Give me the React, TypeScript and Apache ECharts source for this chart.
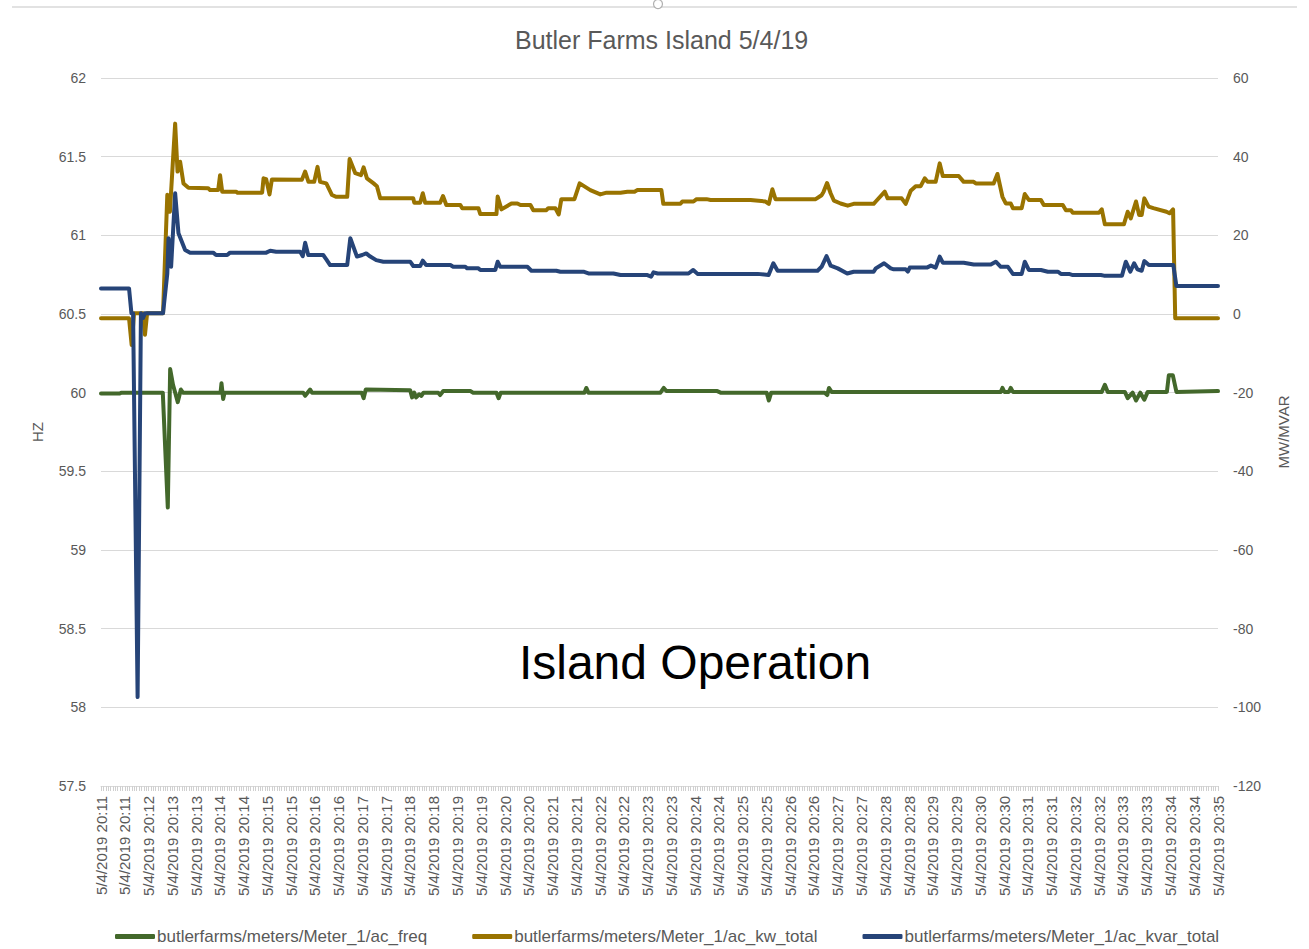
import React, { useEffect, useRef } from "react";
import * as echarts from "echarts";

// Tick labels of the time axis (one label every ~30 s)
const TICK_LABELS = [
  "5/4/2019 20:11", "5/4/2019 20:11", "5/4/2019 20:12",
  "5/4/2019 20:13", "5/4/2019 20:13", "5/4/2019 20:14", "5/4/2019 20:14",
  "5/4/2019 20:15", "5/4/2019 20:15", "5/4/2019 20:16", "5/4/2019 20:16",
  "5/4/2019 20:17", "5/4/2019 20:17", "5/4/2019 20:18", "5/4/2019 20:18",
  "5/4/2019 20:19", "5/4/2019 20:19", "5/4/2019 20:20", "5/4/2019 20:20",
  "5/4/2019 20:21", "5/4/2019 20:21", "5/4/2019 20:22", "5/4/2019 20:22",
  "5/4/2019 20:23", "5/4/2019 20:23", "5/4/2019 20:24", "5/4/2019 20:24",
  "5/4/2019 20:25", "5/4/2019 20:25", "5/4/2019 20:26", "5/4/2019 20:26",
  "5/4/2019 20:27", "5/4/2019 20:27", "5/4/2019 20:28", "5/4/2019 20:28",
  "5/4/2019 20:29", "5/4/2019 20:29", "5/4/2019 20:30", "5/4/2019 20:30",
  "5/4/2019 20:31", "5/4/2019 20:31", "5/4/2019 20:32", "5/4/2019 20:32",
  "5/4/2019 20:33", "5/4/2019 20:33", "5/4/2019 20:34", "5/4/2019 20:34",
  "5/4/2019 20:35",
];

const SERIES_NAMES = [
  "butlerfarms/meters/Meter_1/ac_freq",
  "butlerfarms/meters/Meter_1/ac_kw_total",
  "butlerfarms/meters/Meter_1/ac_kvar_total",
];

// [position along time axis (in tick-label units), value]
const FREQ_POINTS = [
  [0, 59.995], [0.8, 59.995], [0.84, 60.0], [2.6, 60.0], [2.81, 59.27], [2.91, 60.15],
  [3.03, 60.05], [3.23, 59.94], [3.36, 60.02], [3.45, 60.0], [5.03, 60.0], [5.07, 60.06],
  [5.14, 59.96], [5.2, 60.0], [8.51, 60.0], [8.59, 59.98], [8.8, 60.02], [8.88, 60.0],
  [10.97, 60.0], [11.05, 59.965], [11.14, 60.02], [13.01, 60.015], [13.09, 59.97],
  [13.18, 60.0], [13.26, 59.97], [13.39, 59.99], [13.48, 59.98], [13.57, 60.0],
  [14.19, 60.0], [14.27, 59.985], [14.4, 60.01], [15.54, 60.01], [15.66, 60.0],
  [16.64, 60.0], [16.73, 59.965], [16.82, 60.0], [20.34, 60.0], [20.42, 60.03],
  [20.51, 60.0], [23.54, 60.0], [23.68, 60.03], [23.79, 60.01], [25.93, 60.01],
  [26.07, 60.0], [28.01, 60.0], [28.1, 59.95], [28.2, 60.0], [30.45, 60.0],
  [30.56, 59.985], [30.63, 60.03], [30.74, 60.005], [37.86, 60.005], [37.93, 60.03],
  [38.01, 60.005], [38.2, 60.005], [38.28, 60.03], [38.37, 60.005], [42.11, 60.005],
  [42.24, 60.05], [42.36, 60.005], [43.08, 60.005], [43.2, 59.965], [43.41, 60.0],
  [43.55, 59.95], [43.73, 60.0], [43.9, 59.955], [44.04, 60.005], [44.85, 60.005],
  [44.93, 60.11], [45.1, 60.11], [45.25, 60.005], [47, 60.01],
];

const KW_POINTS = [
  [0, -1.1], [1.18, -1.1], [1.29, -7.9], [1.39, 0.2], [1.77, 0.2], [1.85, -5.3],
  [1.94, 0.2], [2.61, 0.2], [2.79, 30.3], [2.9, 26.0], [3.12, 48.4], [3.22, 36.2],
  [3.33, 38.7], [3.47, 33.2], [3.68, 32.1], [4.51, 32.0], [4.59, 31.5], [4.93, 31.5],
  [5.01, 35.3], [5.1, 31.1], [5.69, 31.1], [5.73, 30.85], [6.78, 30.85], [6.84, 34.5],
  [6.95, 34.3], [7.09, 30.4], [7.19, 34.2], [8.45, 34.1], [8.59, 36.2], [8.73, 33.6],
  [8.97, 33.6], [9.11, 37.4], [9.22, 33.6], [9.48, 33.2], [9.72, 30.25], [9.9, 29.8],
  [10.36, 29.8], [10.46, 39.4], [10.7, 35.8], [10.94, 35.3], [11.05, 37.3], [11.19, 34.5],
  [11.47, 33.2], [11.61, 32.5], [11.75, 29.4], [13.14, 29.4], [13.18, 28.3], [13.43, 28.3],
  [13.54, 30.7], [13.64, 28.3], [14.27, 28.3], [14.39, 30.0], [14.53, 27.7], [15.12, 27.7],
  [15.2, 26.9], [15.88, 26.9], [15.96, 25.4], [16.64, 25.4], [16.69, 29.85], [16.85, 26.6],
  [17.27, 28.1], [17.52, 28.1], [17.65, 27.7], [18.07, 27.7], [18.19, 26.4], [18.74, 26.4],
  [18.82, 26.9], [19.12, 26.9], [19.26, 25.3], [19.37, 29.2], [19.92, 29.2], [20.14, 33.2],
  [20.59, 31.5], [21.01, 30.4], [21.27, 30.85], [21.86, 30.85], [22.15, 31.1], [22.45, 31.1],
  [22.57, 31.5], [23.58, 31.5], [23.66, 28.0], [24.38, 28.0], [24.46, 28.6], [24.93, 28.6],
  [25.06, 29.2], [25.48, 29.2], [25.65, 29.0], [27.33, 29.0], [27.96, 28.6], [28.1, 28.0],
  [28.25, 31.7], [28.38, 29.2], [30.07, 29.2], [30.32, 30.2], [30.4, 31.0], [30.55, 33.3],
  [30.7, 30.7], [30.84, 28.8], [31.12, 28.1], [31.42, 27.55], [31.67, 28.0], [32.51, 28.0],
  [32.6, 28.6], [32.98, 31.1], [33.1, 29.4], [33.69, 29.4], [33.86, 28.0], [34.07, 31.35],
  [34.28, 32.5], [34.49, 32.5], [34.66, 34.5], [34.78, 33.6], [35.12, 33.6], [35.29, 38.3],
  [35.42, 35.1], [36.09, 35.1], [36.3, 33.6], [36.72, 33.6], [36.81, 33.2], [37.56, 33.2],
  [37.72, 35.6], [37.93, 29.8], [38.07, 28.1], [38.28, 28.1], [38.37, 26.9], [38.74, 26.9],
  [38.87, 30.5], [39.04, 29.0], [39.55, 29.0], [39.67, 27.7], [40.47, 27.7], [40.6, 26.4],
  [40.81, 26.4], [40.89, 25.75], [41.99, 25.75], [42.11, 26.6], [42.24, 22.8], [43.04, 22.8],
  [43.2, 26.0], [43.33, 24.3], [43.55, 28.6], [43.68, 25.2], [43.79, 25.2], [43.9, 29.4],
  [44.08, 27.3], [44.28, 26.9], [44.83, 26.0], [44.96, 25.6], [45.11, 26.6], [45.2, -1.1],
  [47, -1.1],
];

const KVAR_POINTS = [
  [0, 6.5], [1.18, 6.5], [1.28, 0.2], [1.35, 0.2], [1.54, -97.4], [1.68, 0.2],
  [1.77, -1.0], [1.85, 0.2], [2.61, 0.2], [2.79, 10.3], [2.84, 19.25], [2.95, 12.0],
  [3.12, 30.7], [3.26, 20.5], [3.54, 16.3], [3.75, 15.6], [4.72, 15.6], [4.84, 15.0],
  [5.31, 15.0], [5.43, 15.6], [6.95, 15.6], [7.12, 16.1], [7.37, 15.85], [8.38, 15.85],
  [8.49, 14.7], [8.59, 18.1], [8.72, 15.0], [9.35, 15.0], [9.48, 13.9], [9.64, 12.45],
  [10.36, 12.45], [10.49, 19.25], [10.77, 14.6], [10.99, 15.0], [11.16, 15.4], [11.33, 14.6],
  [11.58, 13.7], [11.88, 13.3], [13.01, 13.3], [13.14, 12.2], [13.43, 12.2], [13.54, 13.55],
  [13.68, 12.45], [14.7, 12.45], [14.82, 12.0], [15.33, 12.0], [15.41, 11.6], [15.88, 11.6],
  [15.96, 11.2], [16.59, 11.2], [16.69, 13.3], [16.8, 12.0], [17.94, 12.0], [18.11, 11.0],
  [19.16, 11.0], [19.33, 10.75], [20.3, 10.75], [20.51, 10.3], [21.56, 10.3], [21.86, 9.9],
  [22.99, 9.9], [23.15, 9.5], [23.25, 10.6], [23.42, 10.3], [24.72, 10.3], [24.92, 11.2],
  [25.1, 10.2], [27.63, 10.2], [28.09, 9.9], [28.29, 12.9], [28.47, 11.0], [30.15, 11.0],
  [30.32, 12.0], [30.53, 14.7], [30.7, 12.3], [31.0, 11.6], [31.4, 10.3], [31.67, 10.75],
  [32.51, 10.75], [32.6, 11.6], [32.95, 12.9], [33.23, 11.6], [33.36, 11.35], [33.86, 11.35],
  [33.95, 10.8], [34.03, 11.8], [34.75, 11.8], [34.92, 12.3], [35.12, 11.8], [35.29, 14.6],
  [35.42, 13.05], [36.3, 13.05], [36.72, 12.6], [37.44, 12.6], [37.65, 13.3], [37.86, 12.0],
  [38.16, 12.0], [38.37, 10.2], [38.74, 10.2], [38.87, 13.3], [39.04, 11.2], [39.55, 11.2],
  [39.84, 10.75], [40.26, 10.75], [40.39, 10.2], [40.73, 10.2], [40.89, 9.9], [42.07, 9.9],
  [42.2, 9.75], [42.96, 9.75], [43.12, 13.3], [43.31, 10.75], [43.47, 12.9], [43.61, 11.35],
  [43.79, 11.0], [43.9, 13.45], [44.09, 12.45], [45.12, 12.45], [45.25, 7.1], [47, 7.1],
];

const COLORS = ["#43682B", "#997300", "#264478"];
const FONT = "'Liberation Sans', Arial, sans-serif";

export default function App() {
  const ref = useRef<HTMLDivElement>(null);

  useEffect(() => {
    document.body.style.margin = "0";
    if (!ref.current) return;
    const chart = echarts.init(ref.current, undefined, { renderer: "svg" });
    const axisText = { color: "#595959", fontSize: 14, fontFamily: FONT };

    chart.setOption({
      animation: false,
      backgroundColor: "#ffffff",
      textStyle: { fontFamily: FONT },
      color: COLORS,
      title: {
        text: "Butler Farms Island 5/4/19",
        left: 510,
        top: 22,
        textStyle: { color: "#595959", fontSize: 25, fontWeight: "normal", fontFamily: FONT },
      },
      legend: {
        left: 115,
        top: 928,
        padding: 0,
        icon: "roundRect",
        itemWidth: 40,
        itemHeight: 5,
        itemGap: 45,
        textStyle: { color: "#595959", fontSize: 17, fontFamily: FONT, padding: [0, 0, 0, -3] },
        data: SERIES_NAMES,
      },
      grid: { left: 101, right: 91, top: 78, bottom: 163, containLabel: false },
      xAxis: {
        type: "value",
        min: 0,
        max: 47,
        interval: 1,
        axisLine: { show: true, onZero: false, lineStyle: { color: "#d9d9d9", width: 1 } },
        axisTick: { show: true, length: 5, lineStyle: { color: "#d0d0d0" } },
        minorTick: { show: true, splitNumber: 10, length: 5, lineStyle: { color: "#d0d0d0" } },
        splitLine: { show: false },
        axisLabel: {
          ...axisText,
          fontSize: 15,
          rotate: 90,
          margin: 10,
          formatter: (v: number) => {
            const i = Math.round(v);
            return Math.abs(v - i) < 1e-6 && TICK_LABELS[i] ? TICK_LABELS[i] : "";
          },
        },
      },
      yAxis: [
        {
          type: "value",
          position: "left",
          min: 57.5,
          max: 62,
          interval: 0.5,
          name: "HZ",
          nameLocation: "middle",
          nameRotate: 90,
          nameGap: 56,
          nameTextStyle: { color: "#595959", fontSize: 15, fontFamily: FONT },
          axisLine: { show: false },
          axisTick: { show: false },
          splitLine: { show: true, lineStyle: { color: "#d9d9d9", width: 1 } },
          axisLabel: { ...axisText, margin: 15 },
        },
        {
          type: "value",
          position: "right",
          min: -120,
          max: 60,
          interval: 20,
          name: "MW/MVAR",
          nameLocation: "middle",
          nameRotate: 90,
          nameGap: 58,
          nameTextStyle: { color: "#595959", fontSize: 15, fontFamily: FONT },
          axisLine: { show: false },
          axisTick: { show: false },
          splitLine: { show: false },
          axisLabel: { ...axisText, margin: 15 },
        },
      ],
      series: [
        {
          name: SERIES_NAMES[0],
          type: "line",
          yAxisIndex: 0,
          data: FREQ_POINTS,
          showSymbol: false,
          lineStyle: { width: 4, color: COLORS[0], join: "round", cap: "round" },
        },
        {
          name: SERIES_NAMES[1],
          type: "line",
          yAxisIndex: 1,
          data: KW_POINTS,
          showSymbol: false,
          lineStyle: { width: 4, color: COLORS[1], join: "round", cap: "round" },
        },
        {
          name: SERIES_NAMES[2],
          type: "line",
          yAxisIndex: 1,
          data: KVAR_POINTS,
          showSymbol: false,
          lineStyle: { width: 4, color: COLORS[2], join: "round", cap: "round" },
        },
      ],
      graphic: [
        {
          type: "line",
          shape: { x1: 12, y1: 7, x2: 1297, y2: 7 },
          style: { stroke: "#d9d9d9", lineWidth: 1.5 },
          silent: true,
        },
        {
          type: "circle",
          shape: { cx: 658, cy: 4, r: 4.5 },
          style: { fill: "#ffffff", stroke: "#b0b0b0", lineWidth: 1.2 },
          silent: true,
        },
        {
          type: "text",
          x: 695,
          y: 662,
          style: {
            text: "Island Operation",
            fill: "#000000",
            fontSize: 48,
            fontFamily: FONT,
            textAlign: "center",
            textVerticalAlign: "middle",
          },
          silent: true,
        },
      ],
    });

    return () => chart.dispose();
  }, []);

  return <div ref={ref} style={{ width: 1309, height: 949 }} />;
}
